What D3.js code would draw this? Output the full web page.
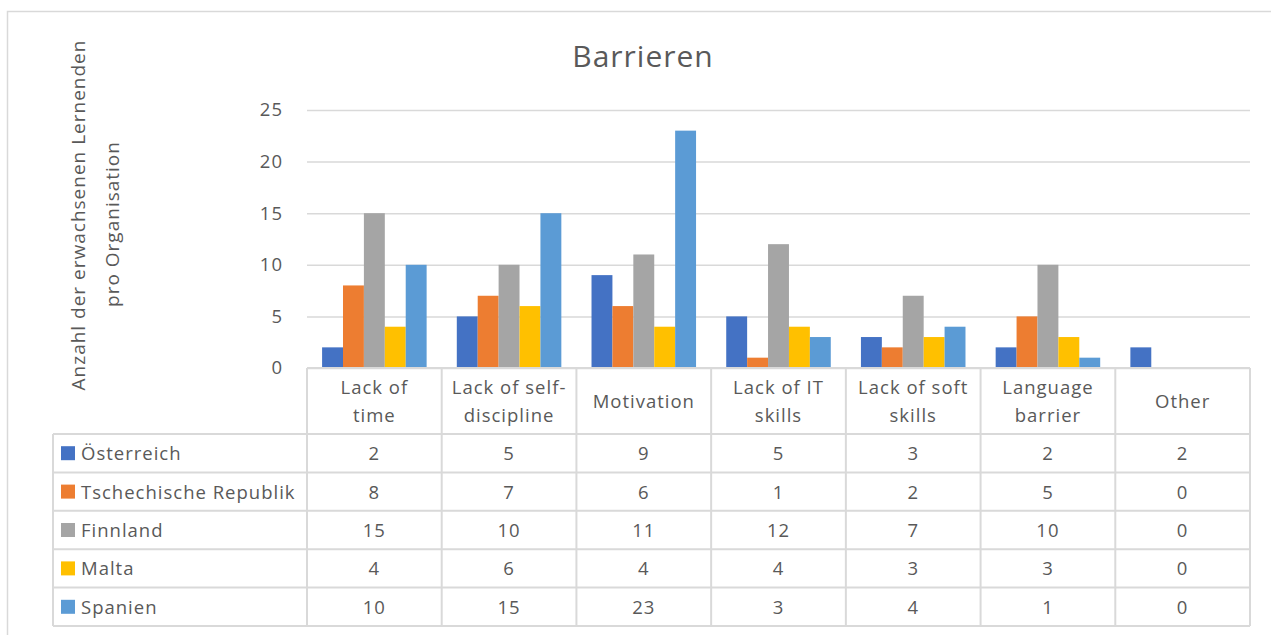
<!DOCTYPE html>
<html>
<head>
<meta charset="utf-8">
<script src="https://cdn.jsdelivr.net/npm/d3@7"></script>
<style>
  html, body { margin: 0; padding: 0; background: #fff; }
  svg { display: block; font-family: "Open Sans", Lato, sans-serif; }
  text { letter-spacing: 1px; }
</style>
</head>
<body>
<svg id="chart" width="1271" height="635"></svg>
<script>
// Barrieren – clustered columns with a data table underneath (Excel style).

const categories = [
  ["Lack of", "time"],
  ["Lack of self-", "discipline"],
  ["Motivation"],
  ["Lack of IT", "skills"],
  ["Lack of soft", "skills"],
  ["Language", "barrier"],
  ["Other"],
];

const seriesNames = ["Österreich", "Tschechische Republik", "Finnland", "Malta", "Spanien"];
const seriesColors = ["#4472C4", "#ED7D31", "#A5A5A5", "#FFC000", "#5B9BD5"];

const oesterreich = [2, 5, 9, 5, 3, 2, 2];
const tschechien = [8, 7, 6, 1, 2, 5, 0];
const finnland = [15, 10, 11, 12, 7, 10, 0];
const malta = [4, 6, 4, 4, 3, 3, 0];
const spanien = [10, 15, 23, 3, 4, 1, 0];

const yTicks = [0, 5, 10, 15, 20, 25];

const chartTitle = "Barrieren";
const yTitleLines = ["Anzahl der erwachsenen Lernenden", "pro Organisation"];

const seriesValues = [oesterreich, tschechien, finnland, malta, spanien];

const TEXT = "#595959";
const LINE = "#d9d9d9";
const FS = 18.5;

const plot = { left: 307, right: 1250, top: 110, bottom: 368 };
const table = { left: 53, headerBottom: 434, rowH: 38.4 };

const svg = d3.select("#chart");

// outer chart frame
svg.append("rect")
  .attr("x", 7.5).attr("y", 11.5)
  .attr("width", 1300).attr("height", 700)
  .attr("fill", "none").attr("stroke", LINE).attr("stroke-width", 1.5);

const catIdx = categories.map((d, i) => i);
const x0 = d3.scaleBand().domain(catIdx).range([plot.left, plot.right]).padding(0);
const gap = x0.bandwidth() * 0.112;
const x1 = d3.scaleBand().domain(d3.range(seriesNames.length)).range([gap, x0.bandwidth() - gap]).padding(0);
const y = d3.scaleLinear().domain([0, 25]).range([plot.bottom, plot.top]);

// gridlines + y labels
const yAxis = d3.axisLeft(y).tickValues(yTicks).tickSize(-(plot.right - plot.left)).tickPadding(24);
const gy = svg.append("g").attr("transform", `translate(${plot.left},0)`).call(yAxis);
gy.select(".domain").remove();
gy.selectAll(".tick line").attr("stroke", LINE).attr("stroke-width", 1.5);
gy.selectAll(".tick text")
  .attr("fill", TEXT).attr("font-size", FS).attr("font-family", "'Open Sans', sans-serif");

// bars
const groups = svg.append("g").selectAll("g")
  .data(catIdx).join("g")
  .attr("transform", (i) => `translate(${x0(i)},0)`);

groups.selectAll("rect")
  .data((i) => seriesValues.map((vals, s) => ({ s, v: vals[i] })).filter((d) => d.v > 0))
  .join("rect")
  .attr("x", (d) => x1(d.s))
  .attr("width", x1.bandwidth())
  .attr("y", (d) => y(d.v))
  .attr("height", (d) => y(0) - y(d.v))
  .attr("fill", (d) => seriesColors[d.s]);

// data table
const tg = svg.append("g");
const rowY = (r) => table.headerBottom + r * table.rowH;
const tableBottom = rowY(seriesNames.length);

// horizontal lines
tg.append("line")
  .attr("x1", plot.left).attr("x2", plot.right)
  .attr("y1", plot.bottom).attr("y2", plot.bottom)
  .attr("stroke", LINE).attr("stroke-width", 2);
d3.range(seriesNames.length + 1).forEach((r) => {
  tg.append("line")
    .attr("x1", table.left).attr("x2", plot.right)
    .attr("y1", rowY(r)).attr("y2", rowY(r))
    .attr("stroke", LINE).attr("stroke-width", 2);
});
// vertical lines
tg.append("line")
  .attr("x1", table.left).attr("x2", table.left)
  .attr("y1", table.headerBottom).attr("y2", tableBottom)
  .attr("stroke", LINE).attr("stroke-width", 2);
catIdx.concat([categories.length]).forEach((i) => {
  const xx = i < categories.length ? x0(i) : plot.right;
  tg.append("line")
    .attr("x1", xx).attr("x2", xx)
    .attr("y1", plot.bottom).attr("y2", tableBottom)
    .attr("stroke", LINE).attr("stroke-width", 2);
});

// category headers
const headerMid = (plot.bottom + table.headerBottom) / 2;
catIdx.forEach((i) => {
  const lines = categories[i];
  const t = tg.append("text")
    .attr("text-anchor", "middle")
    .attr("fill", TEXT).attr("font-size", FS);
  lines.forEach((ln, k) => {
    t.append("tspan")
      .attr("x", x0(i) + x0.bandwidth() / 2)
      .attr("y", headerMid + 7 + (k - (lines.length - 1) / 2) * 28)
      .text(ln);
  });
});

// rows: legend key + values
seriesNames.forEach((name, s) => {
  const cy = rowY(s) + table.rowH / 2;
  tg.append("rect")
    .attr("x", 61).attr("y", cy - 7)
    .attr("width", 14).attr("height", 14)
    .attr("fill", seriesColors[s]);
  tg.append("text")
    .attr("x", 81).attr("y", cy + 7)
    .attr("fill", TEXT).attr("font-size", FS)
    .text(name);
  seriesValues[s].forEach((v, i) => {
    tg.append("text")
      .attr("x", x0(i) + x0.bandwidth() / 2).attr("y", cy + 7)
      .attr("text-anchor", "middle")
      .attr("fill", TEXT).attr("font-size", FS)
      .text(v);
  });
});

// title
svg.append("text")
  .attr("x", 643).attr("y", 67)
  .attr("text-anchor", "middle")
  .attr("fill", TEXT).attr("font-size", 30)
  .text(chartTitle);

// y axis title (two rotated lines)
const yTitlePos = [{ x: 85, cy: 215 }, { x: 119, cy: 224 }];
yTitleLines.forEach((ln, k) => {
  svg.append("text")
    .attr("transform", `translate(${yTitlePos[k].x},${yTitlePos[k].cy}) rotate(-90)`)
    .attr("text-anchor", "middle")
    .attr("fill", TEXT).attr("font-size", 19)
    .text(ln);
});
</script>
</body>
</html>
